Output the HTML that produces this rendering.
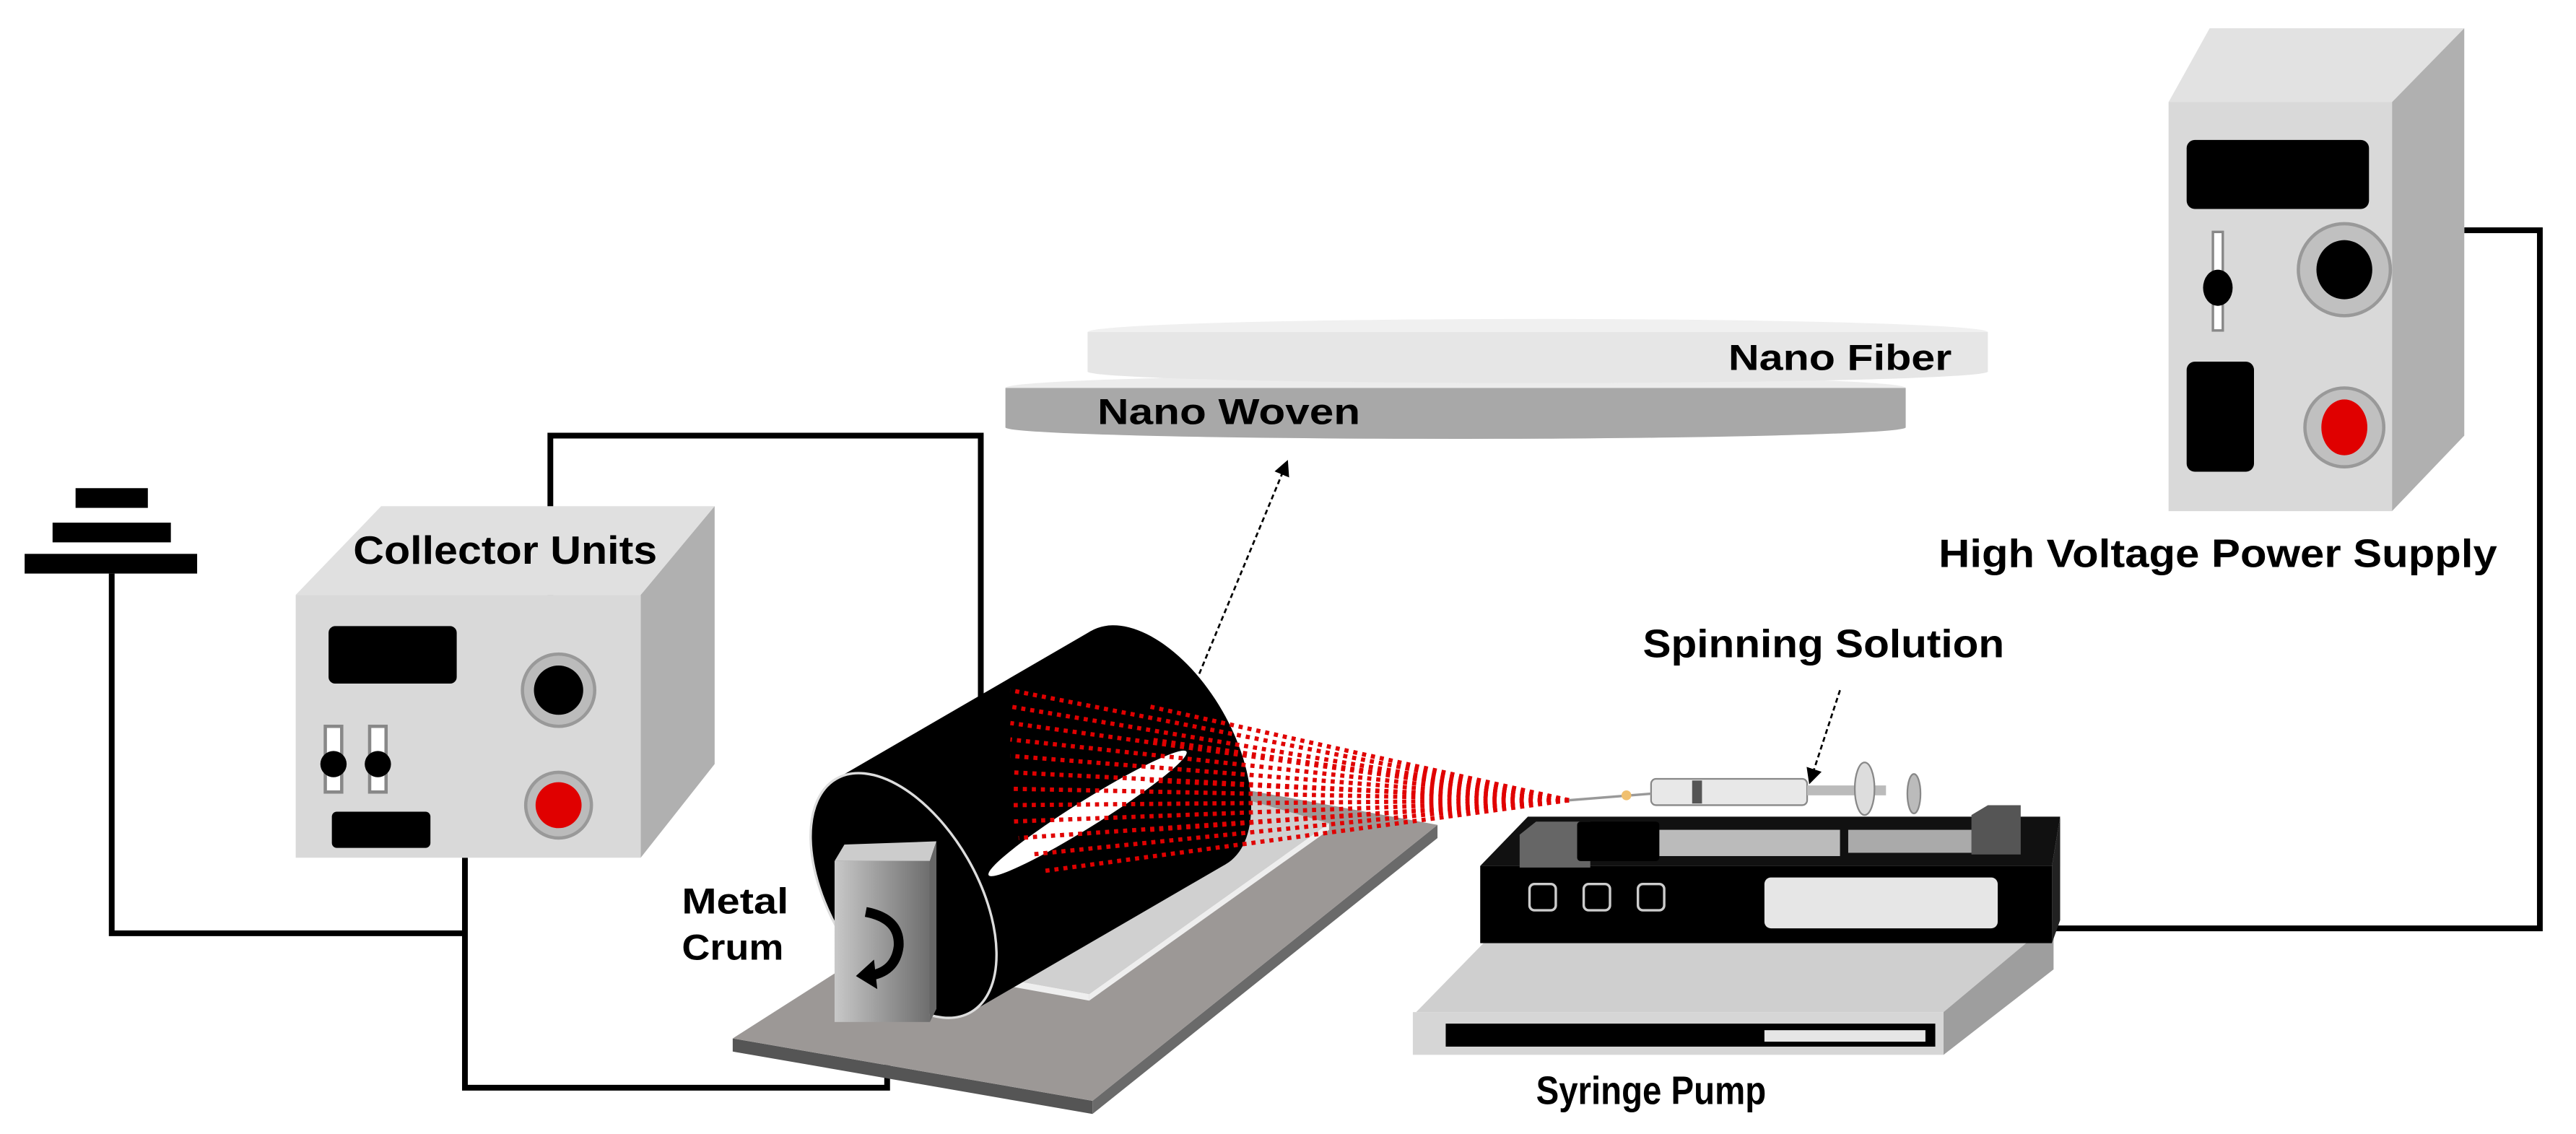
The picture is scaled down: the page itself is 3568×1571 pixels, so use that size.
<!DOCTYPE html>
<html><head><meta charset="utf-8"><style>
html,body{margin:0;padding:0;background:#fff;}
svg{display:block;}
text{font-family:"Liberation Sans",sans-serif;font-weight:bold;fill:#000;}
</style></head><body>
<svg width="3568" height="1571" viewBox="0 0 1568 690" xmlns="http://www.w3.org/2000/svg">
<defs>
<linearGradient id="crum" x1="0" x2="1"><stop offset="0" stop-color="#c8c8c8"/><stop offset="0.5" stop-color="#9a9a9a"/><stop offset="1" stop-color="#6e6e6e"/></linearGradient>
<marker id="ah" markerWidth="8" markerHeight="8" refX="6" refY="4" orient="auto"><path d="M0,0 L8,4 L0,8 z" fill="#000"/></marker>
</defs>
<!-- ground -->
<rect x="46" y="297" width="44" height="12" fill="#000"/>
<rect x="32" y="318" width="72" height="12" fill="#000"/>
<rect x="15" y="337" width="105" height="12" fill="#000"/>
<!-- wires -->
<g fill="none" stroke="#000" stroke-width="3.5">
<polyline points="68,349 68,568 283,568"/>
<polyline points="283,522 283,662 540,662 540,620"/>
<polyline points="335,362 335,265 597,265 597,430"/>
<polyline points="1500,140 1546,140 1546,565 1250,565"/>
</g>
<!-- collector unit -->
<polygon points="180,362 232,308 435,308 390,362" fill="#e0e0e0"/>
<polygon points="390,362 435,308 435,465 390,522" fill="#b0b0b0"/>
<rect x="180" y="362" width="210" height="160" fill="#d9d9d9"/>
<rect x="200" y="381" width="78" height="35" rx="4" fill="#000"/>
<circle cx="340" cy="420" r="22" fill="#bbb" stroke="#999" stroke-width="2"/>
<circle cx="340" cy="420" r="15" fill="#000"/>
<circle cx="340" cy="490" r="20" fill="#bbb" stroke="#999" stroke-width="2"/>
<circle cx="340" cy="490" r="14" fill="#e00000"/>
<rect x="198" y="442" width="10" height="40" fill="#fff" stroke="#888" stroke-width="2"/>
<rect x="225" y="442" width="10" height="40" fill="#fff" stroke="#888" stroke-width="2"/>
<circle cx="203" cy="465" r="8" fill="#000"/>
<circle cx="230" cy="465" r="8" fill="#000"/>
<rect x="202" y="494" width="60" height="22" rx="3" fill="#000"/>
<text x="215" y="343" font-size="24" textLength="185" lengthAdjust="spacingAndGlyphs">Collector Units</text>
<!-- base plate -->
<polygon points="446,632 665,670 665,678 446,640" fill="#555"/>
<polygon points="665,670 875,502 875,510 665,678" fill="#6a6a6a"/>
<polygon points="446,632 700,470 875,502 665,670" fill="#9c9896"/>
<polygon points="574,589 663,605 809,501 746,483" fill="#d0d0d0"/>
<polygon points="574,589 663,605 663,609 574,593" fill="#eee"/>
<polygon points="663,605 809,501 809,505 663,609" fill="#eee"/>
<!-- drum -->
<polygon points="509,474 664,384 746,526 591,616" fill="#000"/>
<ellipse cx="705" cy="455" rx="45" ry="82" transform="rotate(-30 705 455)" fill="#000"/>
<ellipse cx="550" cy="545" rx="45" ry="82" transform="rotate(-30 550 545)" fill="#000" stroke="#ddd" stroke-width="1.5"/>
<ellipse cx="662" cy="495" rx="71" ry="8" transform="rotate(-32 662 495)" fill="#fff"/>
<!-- spray -->
<g stroke="#e00000" stroke-width="2.6" stroke-dasharray="2.5 3" fill="none">
<line x1="955" y1="487" x2="615" y2="420"/>
<line x1="955" y1="487" x2="615" y2="430"/>
<line x1="955" y1="487" x2="615" y2="440"/>
<line x1="955" y1="487" x2="615" y2="450"/>
<line x1="955" y1="487" x2="615" y2="460"/>
<line x1="955" y1="487" x2="615" y2="470"/>
<line x1="955" y1="487" x2="615" y2="480"/>
<line x1="955" y1="487" x2="615" y2="490"/>
<line x1="955" y1="487" x2="615" y2="500"/>
<line x1="955" y1="487" x2="620" y2="510"/>
<line x1="955" y1="487" x2="628" y2="520"/>
<line x1="955" y1="487" x2="636" y2="530"/>
<line x1="955" y1="487" x2="700" y2="430"/>
<line x1="955" y1="487" x2="700" y2="450"/>
<line x1="955" y1="487" x2="700" y2="475"/>
<line x1="955" y1="487" x2="700" y2="505"/>
</g>
<!-- metal crum -->
<polygon points="508,524 514,514 570,512 566,524" fill="#ccc"/>
<polygon points="566,524 570,512 570,614 566,622" fill="#666"/>
<rect x="508" y="524" width="58" height="98" fill="url(#crum)"/>
<path d="M527,555 Q548,559 547,576 Q545,592 528,594" fill="none" stroke="#000" stroke-width="6"/>
<polygon points="521,594 532,584 534,602" fill="#000"/>
<text x="415" y="556" font-size="22" textLength="65" lengthAdjust="spacingAndGlyphs">Metal</text>
<text x="415" y="584" font-size="22" textLength="62" lengthAdjust="spacingAndGlyphs">Crum</text>
<!-- arrow to disc -->
<line x1="730" y1="410" x2="783" y2="282" stroke="#000" stroke-width="1.2" stroke-dasharray="3 2" marker-end="url(#ah)"/>
<!-- discs -->
<ellipse cx="886" cy="236" rx="274" ry="8" fill="#ececec"/>
<rect x="612" y="236" width="548" height="24" fill="#a8a8a8"/>
<ellipse cx="886" cy="260" rx="274" ry="7" fill="#a8a8a8"/>
<ellipse cx="936" cy="202" rx="274" ry="8" fill="#f0f0f0"/>
<rect x="662" y="202" width="548" height="24" fill="#e6e6e6"/>
<ellipse cx="936" cy="226" rx="274" ry="7" fill="#e6e6e6"/>
<text x="668" y="258" font-size="22" textLength="160" lengthAdjust="spacingAndGlyphs">Nano Woven</text>
<text x="1052" y="225" font-size="22" textLength="136" lengthAdjust="spacingAndGlyphs">Nano Fiber</text>
<!-- HV supply -->
<polygon points="1320,62 1345,17 1500,17 1456,62" fill="#e2e2e2"/>
<polygon points="1456,62 1500,17 1500,265 1456,311" fill="#b0b0b0"/>
<rect x="1320" y="62" width="136" height="249" fill="#d9d9d9"/>
<rect x="1331" y="85" width="111" height="42" rx="5" fill="#000"/>
<rect x="1347" y="141" width="6" height="60" fill="#fff" stroke="#888" stroke-width="1.5"/>
<ellipse cx="1350" cy="175" rx="9" ry="11" fill="#000"/>
<circle cx="1427" cy="164" r="28" fill="#c0c0c0" stroke="#999" stroke-width="2"/>
<ellipse cx="1427" cy="164" rx="17" ry="18" fill="#000"/>
<rect x="1331" y="220" width="41" height="67" rx="5" fill="#000"/>
<circle cx="1427" cy="260" r="24" fill="#c0c0c0" stroke="#999" stroke-width="2"/>
<ellipse cx="1427" cy="260" rx="14" ry="17" fill="#e00000"/>
<text x="1180" y="345" font-size="24" textLength="340" lengthAdjust="spacingAndGlyphs">High Voltage Power Supply</text>
<!-- syringe pump base -->
<polygon points="862,616 903,574 1250,560 1183,616" fill="#cfcfcf"/>
<polygon points="1183,616 1250,560 1250,590 1183,642" fill="#9e9e9e"/>
<rect x="860" y="616" width="323" height="26" fill="#d6d6d6"/>
<rect x="880" y="623" width="298" height="14" fill="#000"/>
<rect x="1074" y="627" width="98" height="7" fill="#e6e6e6"/>
<!-- pump body -->
<polygon points="901,527 930,497 1254,497 1249,527" fill="#111"/>
<polygon points="1249,527 1254,497 1254,560 1249,574" fill="#222"/>
<rect x="901" y="527" width="348" height="47" fill="#000"/>
<rect x="931" y="538" width="16" height="16" rx="3" fill="#000" stroke="#ccc" stroke-width="1.5"/>
<rect x="964" y="538" width="16" height="16" rx="3" fill="#000" stroke="#ccc" stroke-width="1.5"/>
<rect x="997" y="538" width="16" height="16" rx="3" fill="#000" stroke="#ccc" stroke-width="1.5"/>
<rect x="1074" y="534" width="142" height="31" rx="4" fill="#e6e6e6"/>
<!-- on top -->
<rect x="1010" y="505" width="110" height="16" fill="#bbb"/>
<rect x="1125" y="505" width="80" height="14" fill="#aaa"/>
<polygon points="925,508 935,500 968,500 968,528 925,528" fill="#666"/>
<rect x="960" y="500" width="50" height="24" rx="2" fill="#000"/>
<polygon points="1200,496 1210,490 1230,490 1230,520 1200,520" fill="#555"/>
<rect x="1005" y="474" width="95" height="16" rx="3" fill="#e8e8e8" stroke="#888" stroke-width="1"/>
<rect x="1030" y="475" width="6" height="14" fill="#555"/>
<rect x="1100" y="478" width="48" height="6" fill="#bbb"/>
<ellipse cx="1135" cy="480" rx="6" ry="16" fill="#ddd" stroke="#888"/>
<ellipse cx="1165" cy="483" rx="4" ry="12" fill="#bbb" stroke="#888"/>
<line x1="955" y1="487" x2="1005" y2="483" stroke="#999" stroke-width="1.5"/>
<circle cx="990" cy="484" r="3" fill="#f0c070"/>
<text x="1000" y="400" font-size="24" textLength="220" lengthAdjust="spacingAndGlyphs">Spinning Solution</text>
<line x1="1120" y1="420" x2="1102" y2="475" stroke="#000" stroke-width="1.2" stroke-dasharray="3 2" marker-end="url(#ah)"/>
<text x="935" y="672" font-size="24" textLength="140" lengthAdjust="spacingAndGlyphs">Syringe Pump</text>
</svg>
</body></html>
